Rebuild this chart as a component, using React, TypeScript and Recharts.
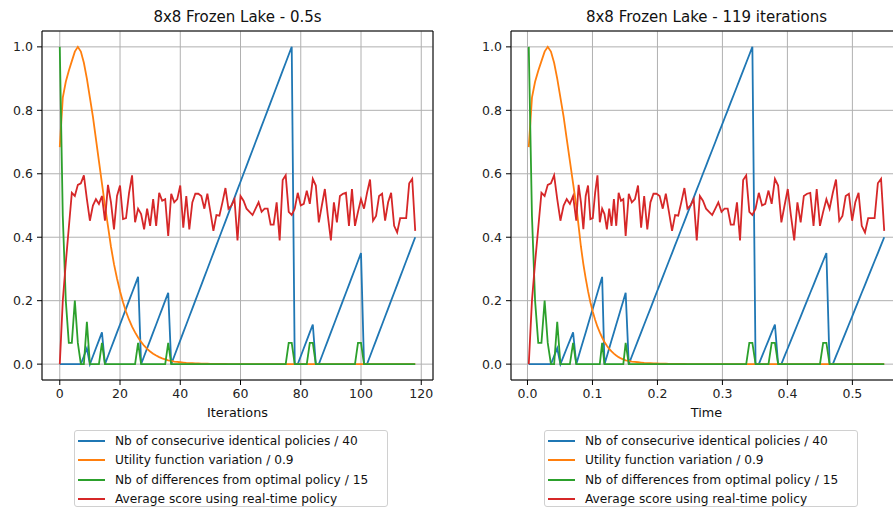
import { CartesianGrid, Line, LineChart, ReferenceLine, XAxis, YAxis } from 'recharts'

// Two matplotlib-style panels: same run, plotted against iterations and against time.

const FONT = '"DejaVu Sans", sans-serif'

// wall-clock time (s) at each iteration
const TIME = [
  0.002, 0.0069, 0.0117, 0.0166, 0.0215, 0.0264, 0.0312, 0.0361, 0.041, 0.0458,
  0.0507, 0.0556, 0.0604, 0.0653, 0.0702, 0.0751, 0.0787, 0.0823, 0.086, 0.0896,
  0.0932, 0.0968, 0.1005, 0.1041, 0.1077, 0.1113, 0.1149, 0.1185, 0.1222, 0.1258,
  0.1294, 0.133, 0.1366, 0.1403, 0.1439, 0.1475, 0.1511, 0.1559, 0.1606, 0.1654,
  0.1701, 0.1749, 0.1796, 0.1844, 0.1892, 0.1939, 0.1986, 0.2034, 0.2082, 0.2129,
  0.2177, 0.2225, 0.2272, 0.232, 0.2367, 0.2415, 0.2462, 0.251, 0.2558, 0.2605,
  0.2653, 0.27, 0.2748, 0.2795, 0.2843, 0.2891, 0.2937, 0.2986, 0.3033, 0.3081,
  0.3128, 0.3176, 0.3224, 0.3271, 0.3319, 0.3366, 0.3414, 0.3461, 0.351, 0.356,
  0.361, 0.3659, 0.3709, 0.3758, 0.3808, 0.3857, 0.3907, 0.3956, 0.4006, 0.4055,
  0.4105, 0.4154, 0.4204, 0.4253, 0.4303, 0.4352, 0.4402, 0.4451, 0.4501, 0.455,
  0.46, 0.4649, 0.4699, 0.4748, 0.4798, 0.4847, 0.4897, 0.4946, 0.4996, 0.5045,
  0.5095, 0.5144, 0.5194, 0.5243, 0.5293, 0.5342, 0.5392, 0.5441, 0.549,
]

// Nb of consecutive identical policies / 40
const BLUE = [
  0, 0, 0, 0, 0, 0, 0, 0, 0.025, 0.05,
  0, 0.025, 0.05, 0.075, 0.1, 0, 0.025, 0.05, 0.075, 0.1,
  0.125, 0.15, 0.175, 0.2, 0.225, 0.25, 0.275, 0, 0.025, 0.05,
  0.075, 0.1, 0.125, 0.15, 0.175, 0.2, 0.225, 0, 0.025, 0.05,
  0.075, 0.1, 0.125, 0.15, 0.175, 0.2, 0.225, 0.25, 0.275, 0.3,
  0.325, 0.35, 0.375, 0.4, 0.425, 0.45, 0.475, 0.5, 0.525, 0.55,
  0.575, 0.6, 0.625, 0.65, 0.675, 0.7, 0.725, 0.75, 0.775, 0.8,
  0.825, 0.85, 0.875, 0.9, 0.925, 0.95, 0.975, 1.0, 0, 0,
  0.025, 0.05, 0.075, 0.1, 0.125, 0, 0, 0.025, 0.05, 0.075,
  0.1, 0.125, 0.15, 0.175, 0.2, 0.225, 0.25, 0.275, 0.3, 0.325,
  0.35, 0, 0, 0.025, 0.05, 0.075, 0.1, 0.125, 0.15, 0.175,
  0.2, 0.225, 0.25, 0.275, 0.3, 0.325, 0.35, 0.375, 0.4,
]

// Utility function variation / 0.9
const ORANGE = [
  0.684, 0.84, 0.89, 0.925, 0.955, 0.985, 1.0, 0.985, 0.95, 0.9,
  0.84, 0.78, 0.71, 0.64, 0.57, 0.5, 0.435, 0.37, 0.315, 0.27,
  0.23, 0.195, 0.165, 0.14, 0.118, 0.1, 0.084, 0.07, 0.058, 0.048,
  0.04, 0.033, 0.027, 0.022, 0.018, 0.015, 0.012, 0.01, 0.008, 0.007,
  0.006, 0.005, 0.004, 0.0035, 0.003, 0.0025, 0.002, 0.0017, 0.0014, 0.0012,
  0.001, 0.0008, 0.0007, 0.0006, 0.0005, 0.0004, 0.0003, 0.0003, 0.0002, 0.0002,
  0.0001, 0.0001, 0, 0, 0, 0, 0, 0, 0, 0,
  0, 0, 0, 0, 0, 0, 0, 0, 0, 0,
  0, 0, 0, 0, 0, 0, 0, 0, 0, 0,
  0, 0, 0, 0, 0, 0, 0, 0, 0, 0,
  0, 0, 0, 0, 0, 0, 0, 0, 0, 0,
  0, 0, 0, 0, 0, 0, 0, 0, 0,
]

// Nb of differences from optimal policy / 15
const GREEN = [
  1.0, 0.467, 0.2, 0.067, 0.067, 0.2, 0.067, 0, 0, 0.133,
  0, 0, 0, 0, 0.067, 0, 0, 0, 0, 0,
  0, 0, 0, 0, 0, 0, 0.067, 0, 0, 0,
  0, 0, 0, 0, 0, 0, 0.067, 0, 0, 0,
  0, 0, 0, 0, 0, 0, 0, 0, 0, 0,
  0, 0, 0, 0, 0, 0, 0, 0, 0, 0,
  0, 0, 0, 0, 0, 0, 0, 0, 0, 0,
  0, 0, 0, 0, 0, 0, 0.067, 0.067, 0, 0,
  0, 0, 0, 0.067, 0.067, 0, 0, 0, 0, 0,
  0, 0, 0, 0, 0, 0, 0, 0, 0, 0.067,
  0.067, 0, 0, 0, 0, 0, 0, 0, 0, 0,
  0, 0, 0, 0, 0, 0, 0, 0, 0,
]

// Average score using real-time policy
const RED = [
  0, 0.2, 0.32, 0.43, 0.54, 0.53, 0.565, 0.57, 0.595, 0.52,
  0.452, 0.5, 0.52, 0.505, 0.53, 0.452, 0.565, 0.51, 0.425, 0.53,
  0.563, 0.457, 0.46, 0.54, 0.595, 0.447, 0.49, 0.473, 0.425, 0.49,
  0.436, 0.52, 0.436, 0.54, 0.515, 0.52, 0.404, 0.537, 0.51, 0.52,
  0.563, 0.43, 0.53, 0.425, 0.51, 0.537, 0.537, 0.53, 0.49, 0.537,
  0.48, 0.42, 0.47, 0.468, 0.51, 0.555, 0.49, 0.5, 0.52, 0.39,
  0.53, 0.515, 0.49, 0.48, 0.47, 0.49, 0.51, 0.48, 0.49, 0.49,
  0.44, 0.44, 0.51, 0.39, 0.58, 0.595, 0.48, 0.47, 0.49, 0.54,
  0.5, 0.505, 0.547, 0.505, 0.584, 0.563, 0.447, 0.5, 0.552, 0.467,
  0.39, 0.51, 0.447, 0.53, 0.537, 0.54, 0.436, 0.552, 0.436, 0.48,
  0.52, 0.49, 0.54, 0.582, 0.452, 0.467, 0.53, 0.537, 0.452, 0.51,
  0.54, 0.436, 0.415, 0.46, 0.46, 0.46, 0.57, 0.584, 0.42,
]

const Y_TICKS = [0, 0.2, 0.4, 0.6, 0.8, 1.0]
const ITER_TICKS = [0, 20, 40, 60, 80, 100, 120]
const TIME_TICKS = [0, 0.1, 0.2, 0.3, 0.4, 0.5]

const SERIES = [
  { key: 'blue', name: 'Nb of consecurive identical policies / 40', color: '#1f77b4' },
  { key: 'orange', name: 'Utility function variation / 0.9', color: '#ff7f0e' },
  { key: 'green', name: 'Nb of differences from optimal policy / 15', color: '#2ca02c' },
  { key: 'red', name: 'Average score using real-time policy', color: '#d62728' },
]

const rows = TIME.map((t, i) => ({
  iter: i,
  time: t,
  blue: BLUE[i],
  orange: ORANGE[i],
  green: GREEN[i],
  red: RED[i],
}))

// matplotlib adds 5% margins around the data range
function padded(lo: number, hi: number): [number, number] {
  const m = (hi - lo) * 0.05
  return [lo - m, hi + m]
}

const Y_DOMAIN: [number, number] = [-0.05, 1.05]
const AXIS_W = 42
const PLOT_W = 391
const CHART_H = 420
const PLOT_TOP = 31
const TICK = { fontSize: 12.5, fill: '#222' }

function Legend({ left }: { left: number }) {
  return (
    <div
      style={{
        position: 'absolute',
        left,
        top: 430,
        width: 314,
        height: 77,
        border: '1px solid #d0d0d0',
        borderRadius: 3,
        background: '#fff',
        boxSizing: 'border-box',
      }}
    >
      {SERIES.map((s, k) => (
        <div
          key={s.key}
          style={{
            position: 'absolute',
            left: 3,
            top: 10 + k * 19.4 - 8,
            height: 16,
            display: 'flex',
            alignItems: 'center',
            whiteSpace: 'nowrap',
          }}
        >
          <span style={{ display: 'inline-block', width: 27, height: 2, background: s.color, marginRight: 10 }} />
          <span style={{ fontSize: 12.2, color: '#111', lineHeight: '16px' }}>{s.name}</span>
        </div>
      ))}
    </div>
  )
}

interface PanelProps {
  left: number
  xKey: 'iter' | 'time'
  xDomain: [number, number]
  ticks: number[]
  fmt: (v: number) => string
  title: string
  xLabel: string
  legendLeft: number
}

function Panel({ left, xKey, xDomain, ticks, fmt, title, xLabel, legendLeft }: PanelProps) {
  return (
    <div style={{ position: 'absolute', left, top: 0, width: AXIS_W + PLOT_W + 8, height: 509 }}>
      <div
        style={{
          position: 'absolute',
          left: AXIS_W,
          top: 8,
          width: PLOT_W,
          textAlign: 'center',
          fontSize: 15,
          lineHeight: '19px',
          color: '#111',
          whiteSpace: 'nowrap',
        }}
      >
        {title}
      </div>
      <LineChart
        width={AXIS_W + PLOT_W + 8}
        height={CHART_H}
        data={rows}
        margin={{ top: PLOT_TOP, right: 8, bottom: 0, left: 0 }}
      >
        <CartesianGrid stroke="#b0b0b0" strokeWidth={1} />
        <XAxis
          type="number"
          dataKey={xKey}
          domain={xDomain}
          allowDataOverflow
          ticks={ticks}
          interval={0}
          tickFormatter={fmt}
          height={CHART_H - PLOT_TOP - 349}
          tickSize={5}
          tickMargin={4}
          stroke="#000"
          tick={TICK}
          label={{ value: xLabel, position: 'insideBottom', offset: 3, fill: '#111', fontSize: 12.8 }}
        />
        <YAxis
          type="number"
          domain={Y_DOMAIN}
          allowDataOverflow
          ticks={Y_TICKS}
          interval={0}
          tickFormatter={(v: number) => v.toFixed(1)}
          width={AXIS_W}
          tickSize={5}
          tickMargin={4}
          stroke="#000"
          tick={TICK}
        />
        <ReferenceLine y={Y_DOMAIN[1]} stroke="#000" strokeWidth={1} />
        <ReferenceLine x={xDomain[1]} stroke="#000" strokeWidth={1} />
        {SERIES.map((s) => (
          <Line
            key={s.key}
            type="linear"
            dataKey={s.key}
            stroke={s.color}
            strokeWidth={1.8}
            dot={false}
            activeDot={false}
            isAnimationActive={false}
          />
        ))}
      </LineChart>
      <Legend left={legendLeft} />
    </div>
  )
}

export default function App() {
  return (
    <div
      style={{
        position: 'fixed',
        left: 0,
        top: 0,
        width: 893,
        height: 509,
        overflow: 'hidden',
        background: '#fff',
        fontFamily: FONT,
      }}
    >
      <Panel
        left={0}
        xKey="iter"
        xDomain={padded(0, 118)}
        ticks={ITER_TICKS}
        fmt={(v) => String(v)}
        title="8x8 Frozen Lake - 0.5s"
        xLabel="Iterations"
        legendLeft={74}
      />
      <Panel
        left={469}
        xKey="time"
        xDomain={padded(TIME[0], TIME[TIME.length - 1])}
        ticks={TIME_TICKS}
        fmt={(v) => v.toFixed(1)}
        title="8x8 Frozen Lake - 119 iterations"
        xLabel="Time"
        legendLeft={75}
      />
    </div>
  )
}
